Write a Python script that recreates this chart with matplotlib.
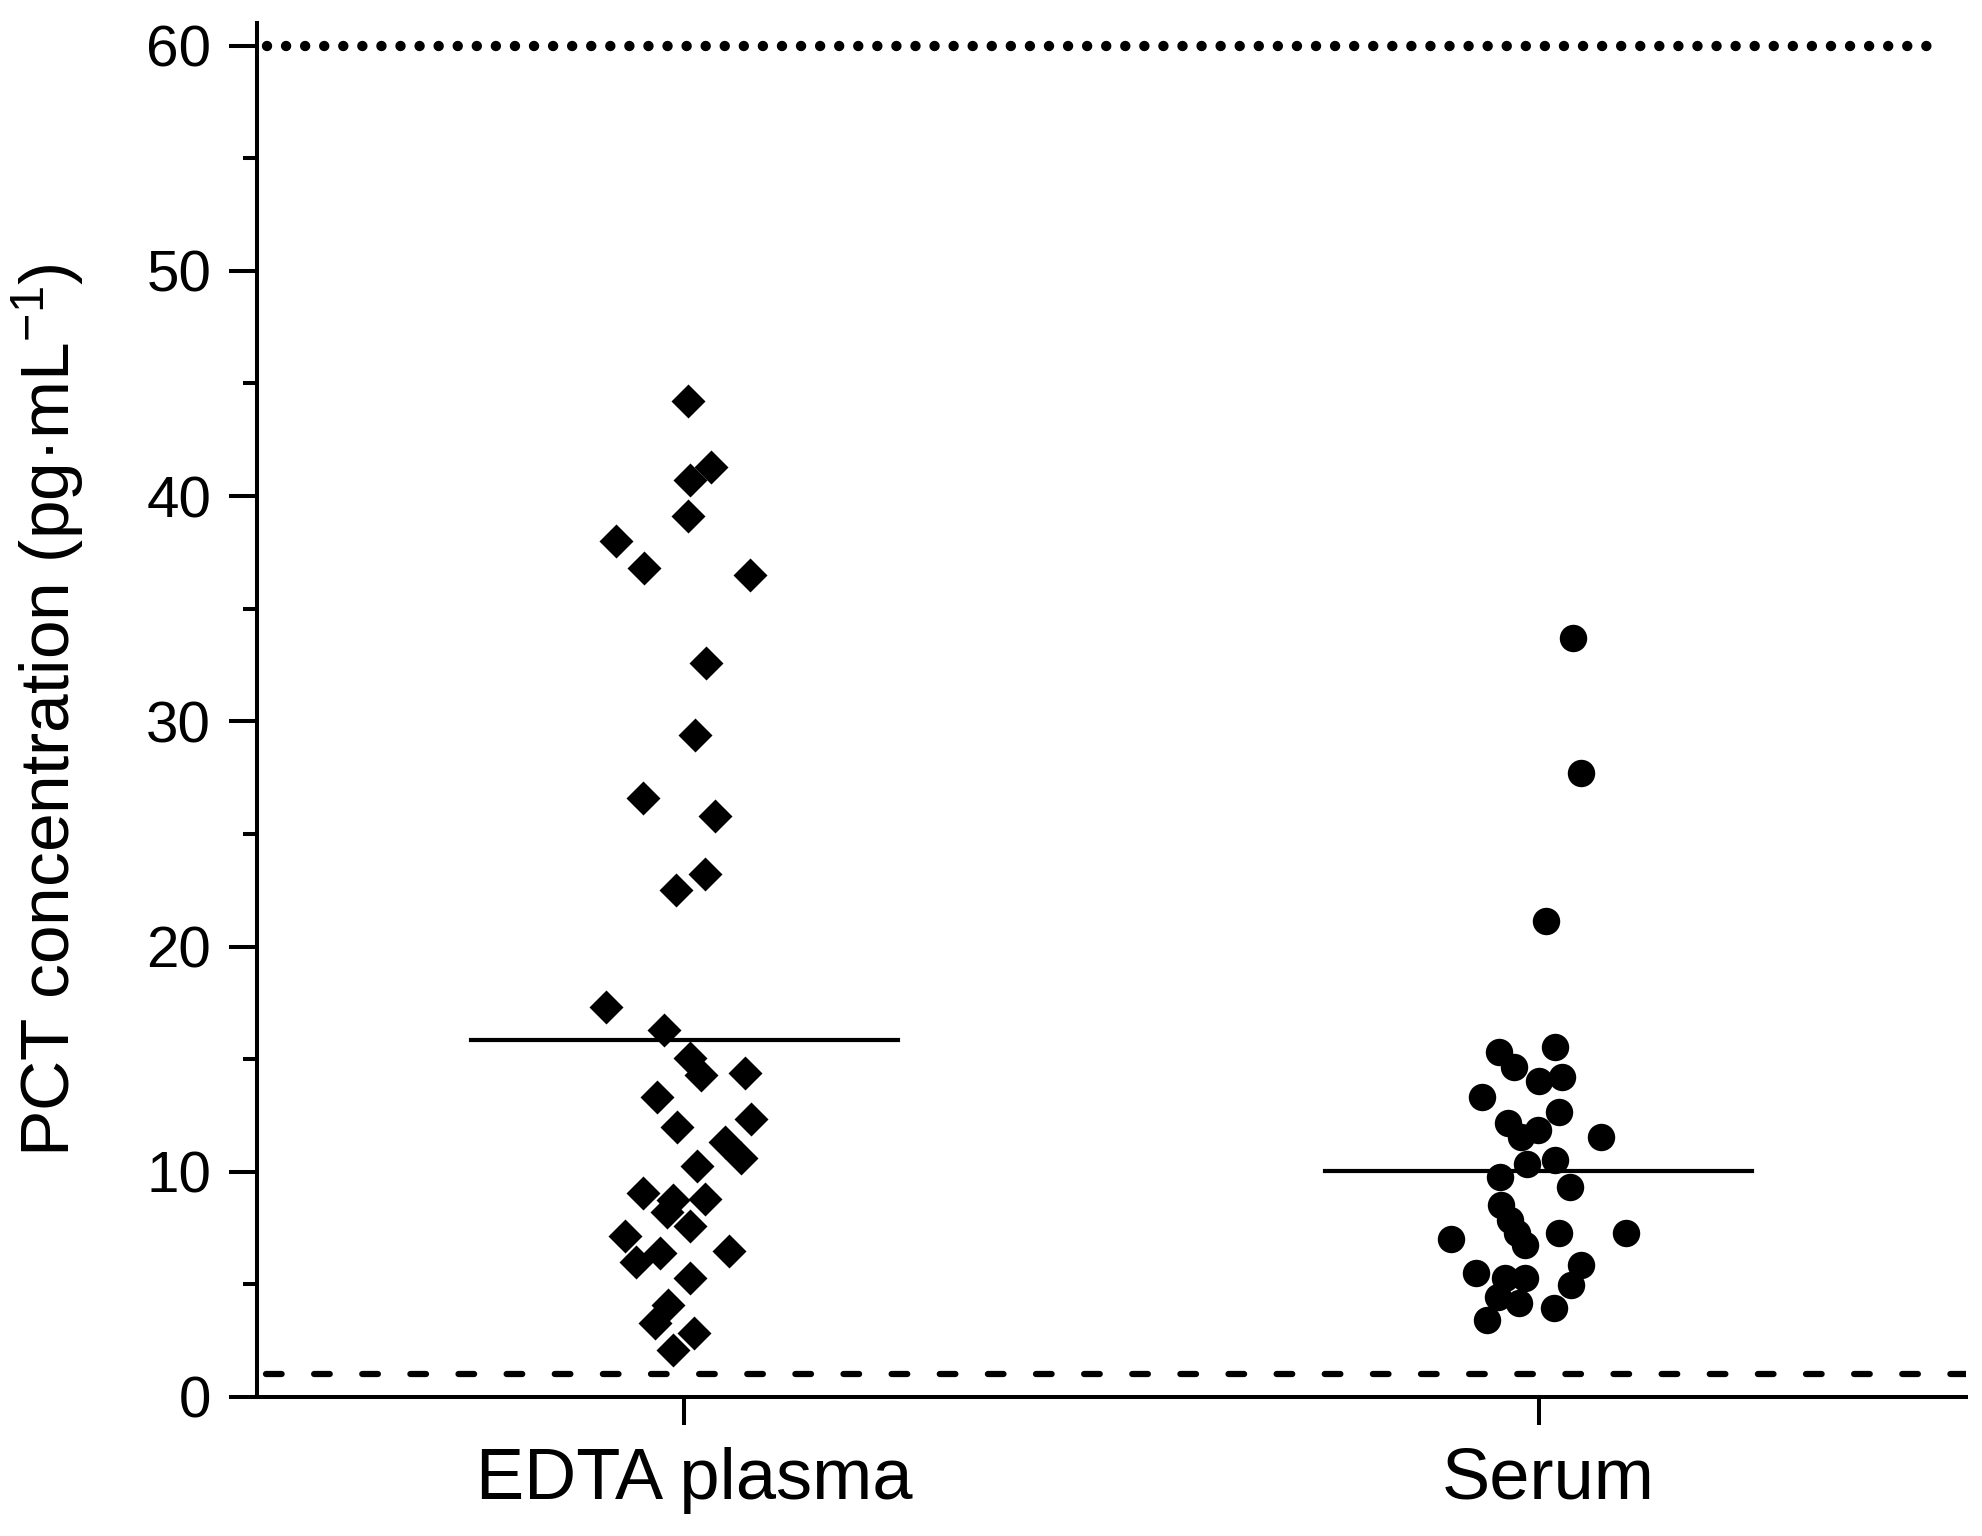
import numpy as np
import matplotlib.pyplot as plt
import matplotlib.transforms as mtransforms
from matplotlib.ticker import MultipleLocator

plt.rcParams['font.family'] = ['Liberation Sans', 'DejaVu Sans']
plt.rcParams['mathtext.default'] = 'regular'

# groups
categories = ['EDTA plasma', 'Serum']

# EDTA plasma: PCT values and horizontal position
edta_y = [44.2, 41.3, 40.7, 39.1, 38.0, 36.8, 36.5, 32.6, 29.4, 26.6, 25.8, 23.2,
          22.5, 17.3, 16.3, 15.05, 14.3, 14.4, 13.3, 12.0, 12.35, 11.3, 10.6,
          10.25, 8.77, 9.06, 8.74, 8.2, 7.6, 7.14, 6.0, 6.4, 6.47, 5.3, 4.1,
          3.3, 2.85, 2.1]
edta_x = [1.004, 1.031, 1.007, 1.004, 0.920, 0.953, 1.077, 1.025, 1.013, 0.952,
          1.036, 1.024, 0.990, 0.908, 0.976, 1.007, 1.020, 1.071, 0.968, 0.991,
          1.078, 1.048, 1.067, 1.015, 1.024, 0.952, 0.987, 0.980, 1.007, 0.931,
          0.944, 0.972, 1.052, 1.007, 0.981, 0.966, 1.011, 0.987]

# Serum
serum_y = [33.7, 27.7, 21.15, 15.3, 14.66, 15.55, 14.04, 14.19, 13.33, 12.66,
           12.15, 11.85, 11.55, 11.53, 10.34, 10.52, 9.78, 9.31, 8.52, 7.86,
           7.27, 6.75, 7.27, 7.27, 7.01, 5.49, 5.27, 5.27, 4.45, 4.16, 3.42,
           5.86, 4.97, 3.94]
serum_x = [2.040, 2.049, 2.009, 1.954, 1.971, 2.019, 2.000, 2.027, 1.934, 2.024,
           1.964, 1.999, 1.979, 2.073, 1.986, 2.019, 1.955, 2.037, 1.956, 1.966,
           1.975, 1.984, 2.024, 2.102, 1.897, 1.927, 1.960, 1.984, 1.952, 1.977,
           1.940, 2.049, 2.038, 2.018]

group_means = [15.85, 10.05]
lower_limit = 1.0
upper_limit = 60.0

fig = plt.figure(figsize=(19.83, 15.36), dpi=100)
ax = fig.add_axes([0.1296, 0.0905, 0.8618, 0.8945])

ax.scatter(edta_x, edta_y, marker='D', s=300, color='black', linewidths=0, zorder=3)
ax.scatter(serum_x, serum_y, marker='o', s=390, color='black', linewidths=0, zorder=3)

for i, m in enumerate(group_means):
    ax.plot([i + 1 - 0.25, i + 1 + 0.25], [m, m], color='black', lw=3, zorder=2)

ax.plot([0.512, 2.468], [upper_limit, upper_limit], color='black', lw=7.5,
        linestyle=(0, (0.001, 1.83)), dash_capstyle='round', zorder=1)
ax.plot([0.51, 2.5], [lower_limit, lower_limit], color='black', lw=4.5,
        linestyle=(0, (2.5, 5.2)), dash_capstyle='round', zorder=1)

ax.set_xlim(0.5, 2.5)
ax.set_ylim(0, 61)
ax.set_xticks([1, 2])
ax.set_xticklabels([])
# category labels sit a little right of their ticks in the original
shift = mtransforms.ScaledTranslation(7 / 72, -36 / 72, fig.dpi_scale_trans)
for i, name in enumerate(categories):
    ax.text(i + 1, 0, name, fontsize=52, ha='center', va='top',
            transform=ax.get_xaxis_transform() + shift)

ax.yaxis.set_major_locator(MultipleLocator(10))
ax.yaxis.set_minor_locator(MultipleLocator(5))
ax.tick_params(axis='y', which='major', labelsize=42, length=20, width=2.9, pad=13)
ax.tick_params(axis='y', which='minor', length=10, width=2.9)
ax.tick_params(axis='x', which='major', length=20, width=2.9)

for side in ['top', 'right']:
    ax.spines[side].set_visible(False)
for side in ['left', 'bottom']:
    ax.spines[side].set_linewidth(2.9)

ax.set_ylabel('PCT concentration (pg·mL$^{-1}$)', fontsize=50)
ax.yaxis.set_label_coords(-0.1, 0.5)

plt.savefig('out.png', dpi=100)
